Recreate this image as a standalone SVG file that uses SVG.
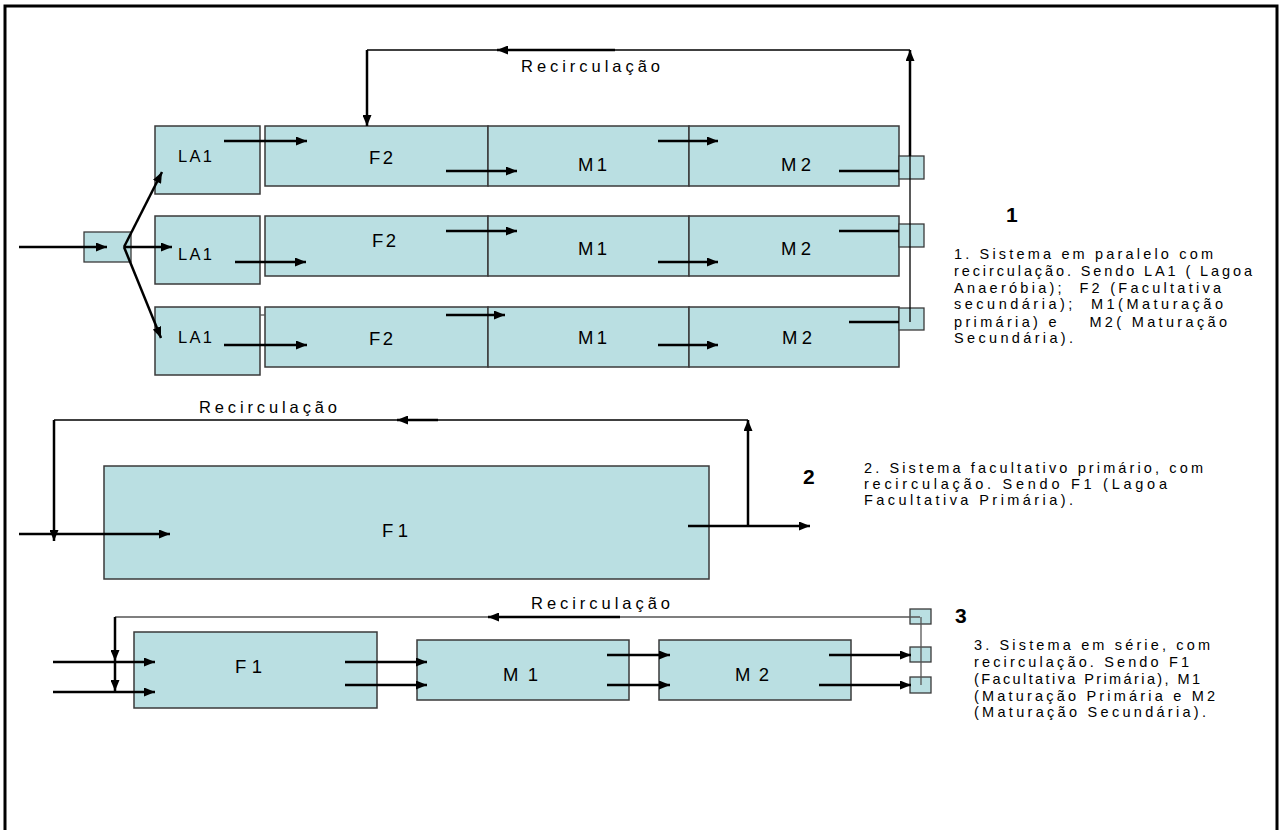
<svg xmlns="http://www.w3.org/2000/svg" width="1280" height="830" viewBox="0 0 1280 830">
<style>
.box{fill:#BADFE2;stroke:#3a3a3a;stroke-width:1.5}
.sq{fill:#BADFE2;stroke:#3a3a3a;stroke-width:1.3}
.t{font-family:"Liberation Sans",Arial,sans-serif;fill:#000}
.lb{font-size:16.5px}
.lb2{font-size:18.5px}
.rc{font-size:16.5px}
.num{font-size:21px;font-weight:bold}
.p{font-size:14.5px;white-space:pre}
.a{stroke:#000;stroke-width:2.5;fill:none;marker-end:url(#ah)}
.l{stroke:#000;stroke-width:2.5;fill:none}
.thin{stroke:#000;stroke-width:1.3;fill:none}
.gray{stroke:#555;stroke-width:1.3;fill:none}
</style>
<defs>
<marker id="ah" markerUnits="userSpaceOnUse" markerWidth="11" markerHeight="9" refX="11" refY="4.5" orient="auto">
<path d="M0,0 L11,4.5 L0,9 z" fill="#000"/>
</marker>
</defs>
<rect width="1280" height="830" fill="#fff"/>
<path d="M5,832 V6 H1277 V832" fill="none" stroke="#000" stroke-width="3"/>

<!-- System 1 -->
<g id="in1"><rect class="sq" x="84" y="232" width="47" height="30"/></g>
<g id="la1-r1"><rect class="box" x="155" y="126" width="105" height="68"/><text class="t lb" x="178" y="162" textLength="34" lengthAdjust="spacing">LA1</text></g>
<g id="f2-r1"><rect class="box" x="265" y="126" width="223" height="60"/><text class="t lb2" x="369" y="164" textLength="24" lengthAdjust="spacing">F2</text></g>
<g id="m1-r1"><rect class="box" x="488" y="126" width="201" height="60"/><text class="t lb2" x="578" y="171" textLength="29" lengthAdjust="spacing">M1</text></g>
<g id="m2-r1"><rect class="box" x="689" y="126" width="210" height="60"/><text class="t lb2" x="781" y="171" textLength="30" lengthAdjust="spacing">M2</text></g>
<g id="sq-r1"><rect class="sq" x="899" y="156" width="25" height="23"/></g>

<g id="la1-r2"><rect class="box" x="155" y="216" width="105" height="68"/><text class="t lb" x="178" y="260" textLength="34" lengthAdjust="spacing">LA1</text></g>
<g id="f2-r2"><rect class="box" x="265" y="216" width="223" height="60"/><text class="t lb2" x="372" y="247" textLength="24" lengthAdjust="spacing">F2</text></g>
<g id="m1-r2"><rect class="box" x="488" y="216" width="201" height="60"/><text class="t lb2" x="578" y="255" textLength="29" lengthAdjust="spacing">M1</text></g>
<g id="m2-r2"><rect class="box" x="689" y="216" width="210" height="60"/><text class="t lb2" x="781" y="255" textLength="30" lengthAdjust="spacing">M2</text></g>
<g id="sq-r2"><rect class="sq" x="899" y="224" width="25" height="23"/></g>

<g id="la1-r3"><rect class="box" x="155" y="307" width="105" height="68"/><text class="t lb" x="178" y="343" textLength="34" lengthAdjust="spacing">LA1</text></g>
<g id="f2-r3"><rect class="box" x="265" y="307" width="223" height="60"/><text class="t lb2" x="369" y="345" textLength="24" lengthAdjust="spacing">F2</text></g>
<g id="m1-r3"><rect class="box" x="488" y="307" width="201" height="60"/><text class="t lb2" x="578" y="344" textLength="29" lengthAdjust="spacing">M1</text></g>
<g id="m2-r3"><rect class="box" x="689" y="307" width="210" height="60"/><text class="t lb2" x="782" y="344" textLength="30" lengthAdjust="spacing">M2</text></g>
<g id="sq-r3"><rect class="sq" x="899" y="308" width="25" height="22"/></g>

<!-- System 2 -->
<g id="f1-s2"><rect class="box" x="104" y="466" width="605" height="113"/><text class="t lb2" x="382" y="537" textLength="26" lengthAdjust="spacing">F1</text></g>

<!-- System 3 -->
<g id="f1-s3"><rect class="box" x="134" y="632" width="243" height="76"/><text class="t lb2" x="235" y="673" textLength="27" lengthAdjust="spacing">F1</text></g>
<g id="m1-s3"><rect class="box" x="417" y="640" width="212" height="60"/><text class="t lb2" x="503" y="681" textLength="35" lengthAdjust="spacing">M1</text></g>
<g id="m2-s3"><rect class="box" x="659" y="640" width="192" height="60"/><text class="t lb2" x="735" y="681" textLength="34" lengthAdjust="spacing">M2</text></g>
<g id="sq-s3a"><rect class="sq" x="910" y="609" width="21" height="15"/></g>
<g id="sq-s3b"><rect class="sq" x="910" y="647" width="21" height="15"/></g>
<g id="sq-s3c"><rect class="sq" x="910" y="677" width="21" height="16"/></g>

<g id="connectors">
<!-- system 1 -->
<line class="a" x1="19" y1="247" x2="107" y2="247"/>
<line class="a" x1="124" y1="247" x2="162" y2="172"/>
<line class="a" x1="124" y1="247" x2="172" y2="247"/>
<line class="a" x1="124" y1="247" x2="161" y2="338"/>
<line class="a" x1="224" y1="141" x2="307" y2="141"/>
<line class="a" x1="446" y1="171" x2="517" y2="171"/>
<line class="a" x1="658" y1="141" x2="718" y2="141"/>
<line class="l" x1="839" y1="171" x2="899" y2="171"/>
<line class="a" x1="235" y1="262" x2="306" y2="262"/>
<line class="a" x1="446" y1="231" x2="517" y2="231"/>
<line class="a" x1="658" y1="262" x2="718" y2="262"/>
<line class="l" x1="839" y1="231" x2="899" y2="231"/>
<line class="a" x1="224" y1="345" x2="307" y2="345"/>
<line class="a" x1="446" y1="315" x2="505" y2="315"/>
<line class="a" x1="658" y1="345" x2="718" y2="345"/>
<line class="l" x1="849" y1="322" x2="899" y2="322"/>
<line class="gray" x1="260" y1="315" x2="265" y2="315"/>
<line class="thin" x1="910" y1="156" x2="910" y2="322"/>
<line class="a" x1="910" y1="156" x2="910" y2="50"/>
<polyline class="thin" points="910,50 367,50"/>
<line class="a" x1="615" y1="50" x2="497" y2="50"/>
<line class="a" x1="367" y1="50" x2="367" y2="126"/>
<!-- system 2 -->
<line class="thin" x1="54" y1="420" x2="748" y2="420"/>
<line class="a" x1="438" y1="420" x2="397" y2="420"/>
<line class="a" x1="748" y1="526" x2="748" y2="420"/>
<line class="a" x1="54" y1="420" x2="54" y2="541"/>
<line class="a" x1="19" y1="534" x2="170" y2="534"/>
<line class="a" x1="688" y1="526" x2="810" y2="526"/>
<!-- system 3 -->
<line class="gray" x1="115" y1="617" x2="920" y2="617"/>
<line class="a" x1="620" y1="617" x2="488" y2="617"/>
<line class="a" x1="115" y1="617" x2="115" y2="661"/>
<line class="a" x1="115" y1="661" x2="115" y2="691"/>
<line class="a" x1="53" y1="662" x2="155" y2="662"/>
<line class="a" x1="53" y1="692" x2="155" y2="692"/>
<line class="a" x1="345" y1="662" x2="427" y2="662"/>
<line class="a" x1="345" y1="685" x2="427" y2="685"/>
<line class="a" x1="607" y1="655" x2="670" y2="655"/>
<line class="a" x1="607" y1="685" x2="670" y2="685"/>
<line class="a" x1="829" y1="655" x2="911" y2="655"/>
<line class="a" x1="819" y1="685" x2="911" y2="685"/>
<line class="gray" x1="921" y1="617" x2="921" y2="685"/>
</g>

<!-- labels -->
<text class="t rc" x="521" y="72" textLength="139" lengthAdjust="spacing">Recirculação</text>
<text class="t rc" x="199" y="413" textLength="138" lengthAdjust="spacing">Recirculação</text>
<text class="t rc" x="531" y="609" textLength="139" lengthAdjust="spacing">Recirculação</text>

<text class="t num" x="1006" y="222">1</text>
<text class="t num" x="803" y="484">2</text>
<text class="t num" x="955" y="623">3</text>

<g id="desc1">
<text class="t p" x="954" y="259" textLength="259" lengthAdjust="spacing">1. Sistema em paralelo com</text>
<text class="t p" x="954" y="276" textLength="298" lengthAdjust="spacing">recirculação. Sendo LA1 ( Lagoa</text>
<text class="t p" x="954" y="293" textLength="267" lengthAdjust="spacing">Anaeróbia);  F2 (Facultativa</text>
<text class="t p" x="954" y="309" textLength="269" lengthAdjust="spacing">secundária);  M1(Maturação</text>
<text class="t p" x="954" y="327" textLength="273" lengthAdjust="spacing">primária) e    M2( Maturação</text>
<text class="t p" x="954" y="343" textLength="119" lengthAdjust="spacing">Secundária).</text>
</g>
<g id="desc2">
<text class="t p" x="864" y="473" textLength="339" lengthAdjust="spacing">2. Sistema facultativo primário, com</text>
<text class="t p" x="864" y="489" textLength="303" lengthAdjust="spacing">recirculação. Sendo F1 (Lagoa</text>
<text class="t p" x="864" y="505" textLength="209" lengthAdjust="spacing">Facultativa Primária).</text>
</g>
<g id="desc3">
<text class="t p" x="974" y="650" textLength="236" lengthAdjust="spacing">3. Sistema em série, com</text>
<text class="t p" x="974" y="667" textLength="215" lengthAdjust="spacing">recirculação. Sendo F1</text>
<text class="t p" x="974" y="684" textLength="226" lengthAdjust="spacing">(Facultativa Primária), M1</text>
<text class="t p" x="974" y="701" textLength="241" lengthAdjust="spacing">(Maturação Primária e M2</text>
<text class="t p" x="974" y="717" textLength="232" lengthAdjust="spacing">(Maturação Secundária).</text>
</g>
</svg>
